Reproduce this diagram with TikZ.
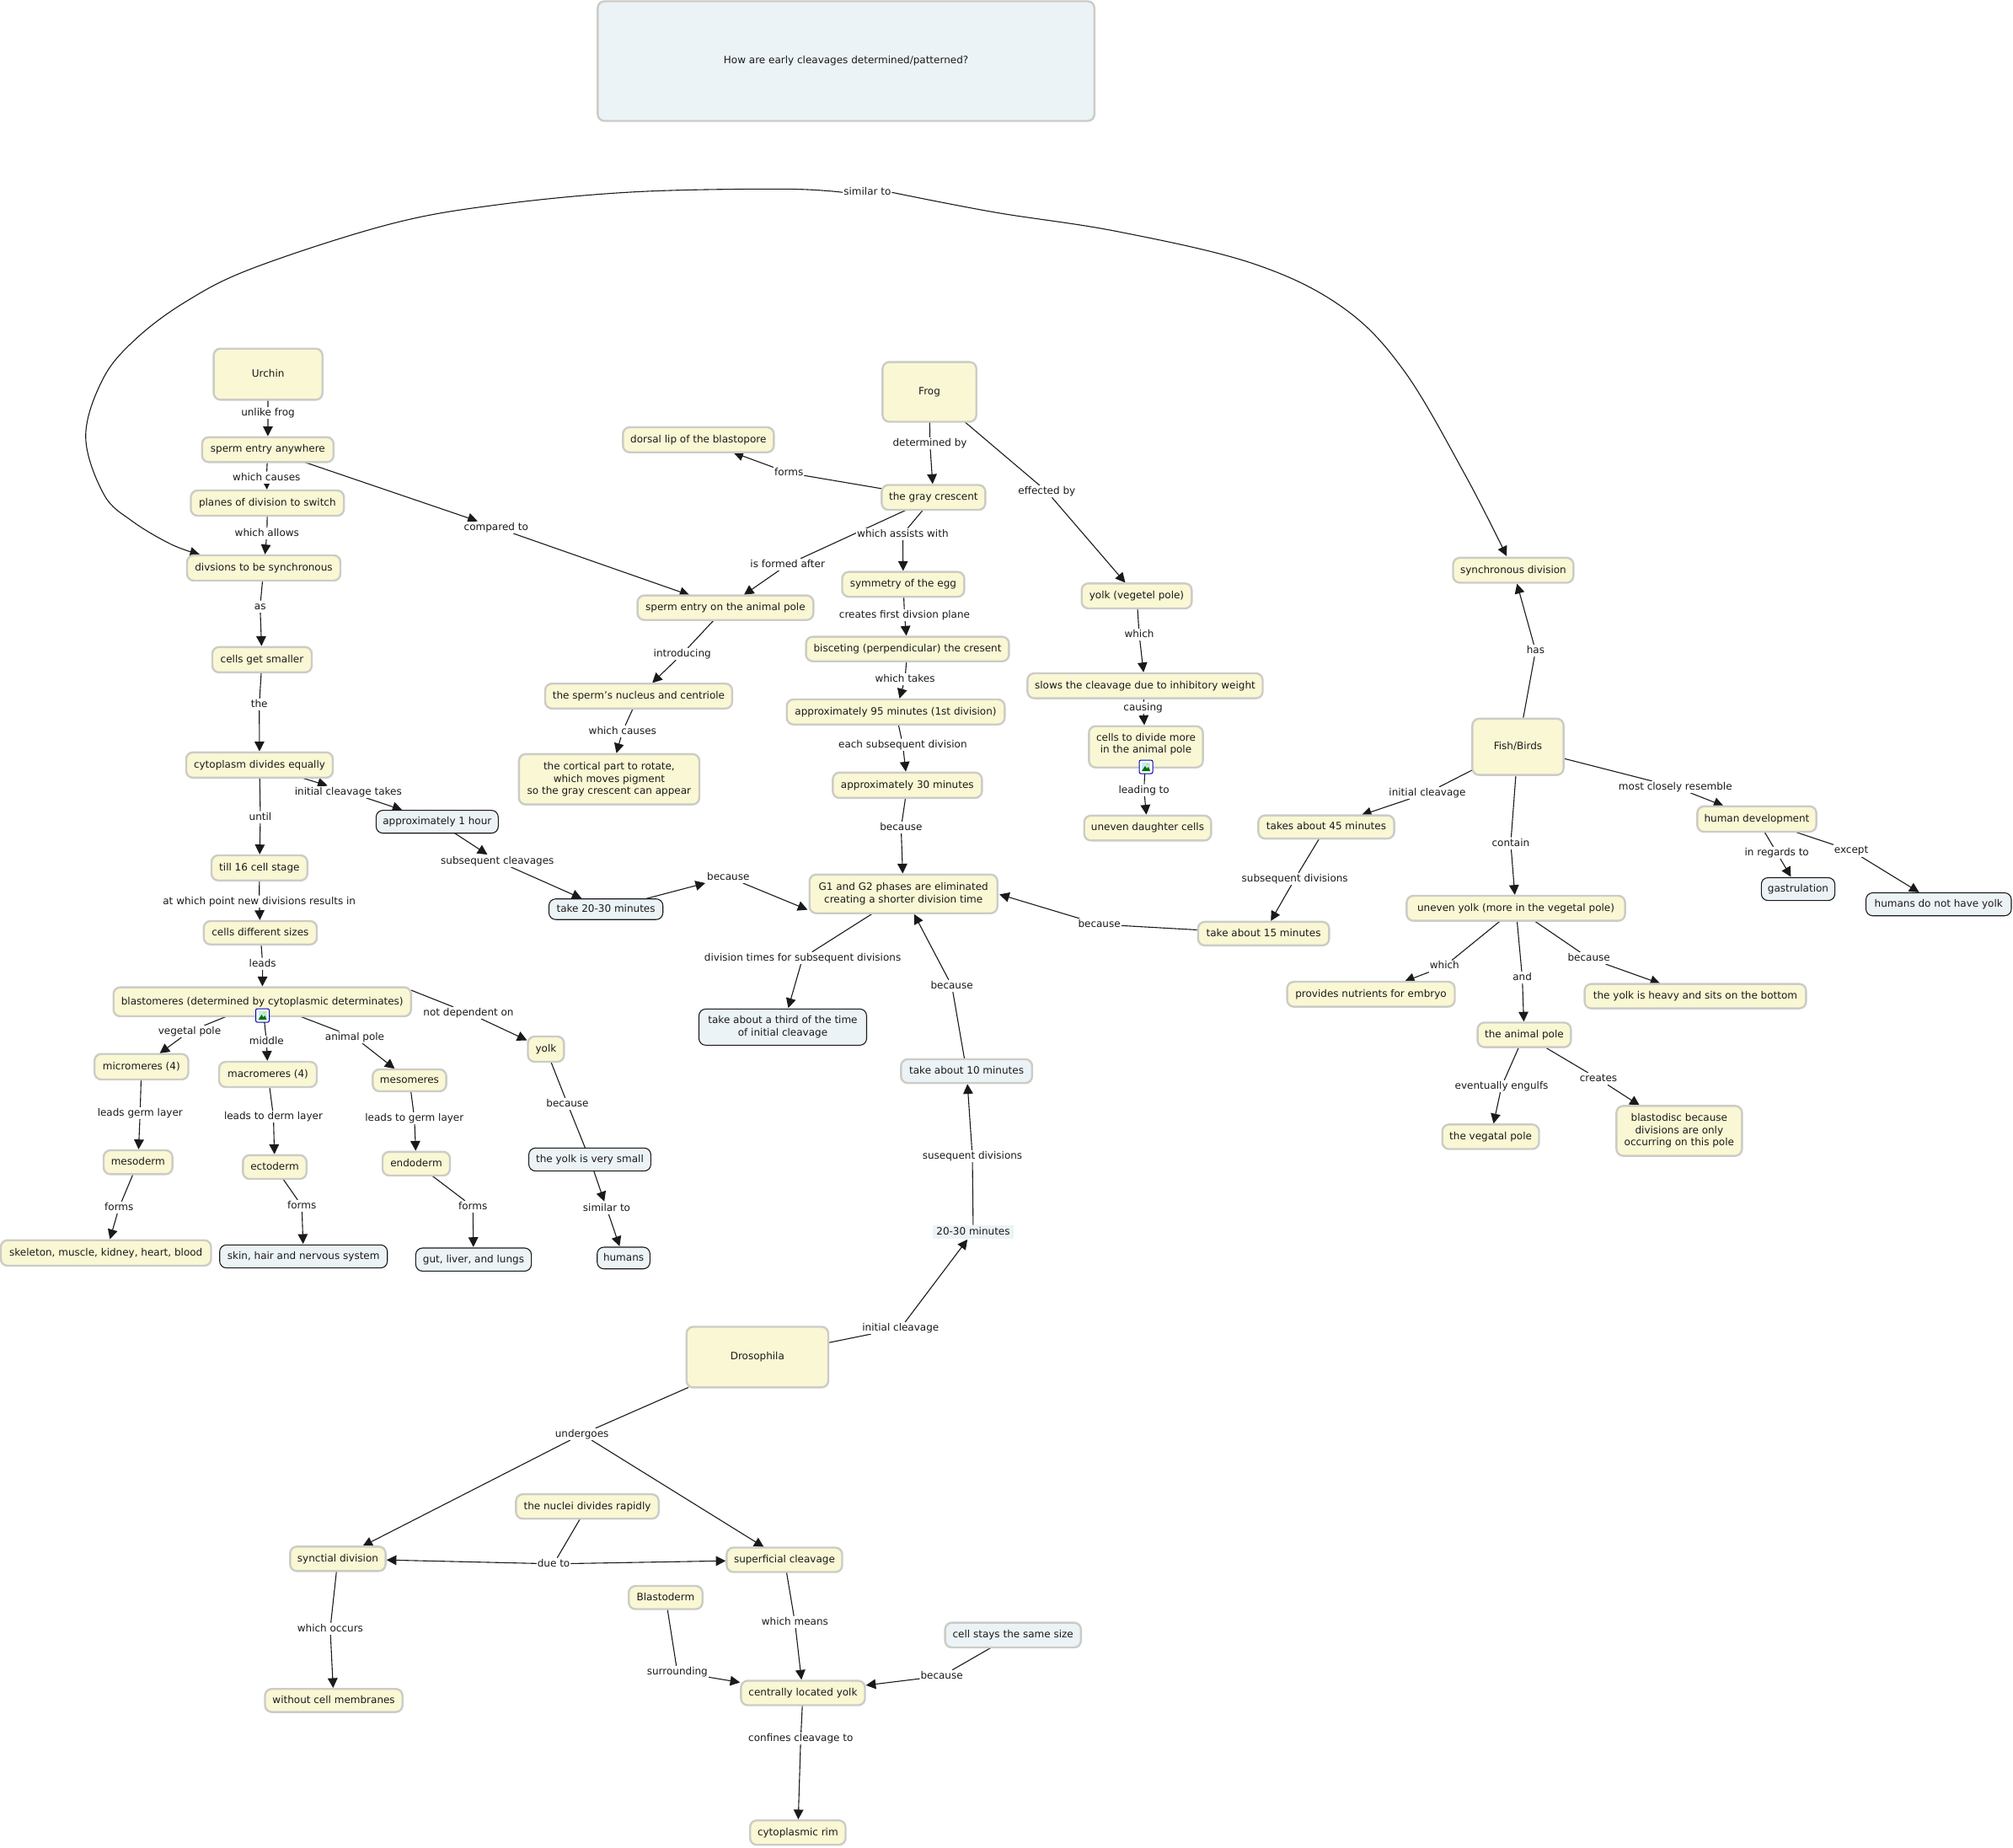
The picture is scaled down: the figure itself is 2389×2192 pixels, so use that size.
\documentclass[tikz,border=0pt]{standalone}
\usepackage{fontspec}
\setmainfont{DejaVu Sans}
\usetikzlibrary{arrows.meta,backgrounds,calc}
\definecolor{yfill}{HTML}{FAF7D4}
\definecolor{bfill}{HTML}{ECF3F6}
\definecolor{gborder}{HTML}{CCCCC6}
\definecolor{ink}{HTML}{1A1A1A}
\tikzset{
  txt/.style={font=\fontsize{6}{7.27}\selectfont,text=ink,inner sep=0pt,outer sep=0pt},
  one/.style={text height=4.6pt,text depth=1.3pt},
  ml/.style={align=center},
  ybox/.style={txt,draw=gborder,fill=yfill,line width=1.2pt,rounded corners=4pt,rectangle},
  gbox/.style={txt,draw=gborder,fill=bfill,line width=1.2pt,rounded corners=4pt,rectangle},
  kbox/.style={txt,draw=ink,fill=bfill,line width=0.55pt,rounded corners=4pt,rectangle},
  pbox/.style={txt,fill=bfill,rectangle},
  lbl/.style={txt,one,fill=white,inner xsep=0.5pt,inner ysep=0.6pt},
  cline/.style={draw=ink,line width=0.55pt},
  carrow/.style={cline,-{Triangle[length=5.8pt,width=5.8pt]},shorten >=0.6pt},
}
\newcommand{\bx}[7]{\node[#2,minimum width={(#4-#3)*0.5pt},minimum height={(#6-#5)*0.5pt}] (#1) at ({(#3+#4)/2},{(#5+#6)/2}) {#7};}
\newcommand{\lb}[4]{\node[lbl] (#1) at (#2,#3) {#4};}
\newcommand{\lnk}[3]{\begin{scope}[on background layer]\draw[cline] (#1) -- (#2);\draw[carrow] (#2) -- (#3);\end{scope}}
\newcommand{\lnkA}[3]{\begin{scope}[on background layer]\draw[carrow] (#1) -- (#2);\draw[carrow] (#2) -- (#3);\end{scope}}
\newcommand{\lnkN}[3]{\begin{scope}[on background layer]\draw[cline] (#1) -- (#2);\draw[cline] (#2) -- (#3);\end{scope}}
\newcommand{\imgicon}[3]{%
  \node[draw=blue!70!black,fill=white,line width=0.5pt,rounded corners=1pt,minimum width=8pt,minimum height=8pt,inner sep=0pt] (#1) at (#2,#3) {};
  \fill[cyan!25] ($(#1.center)+(-5,-5)$) rectangle ($(#1.center)+(5,5)$);
  \fill[green!45!black] ($(#1.center)+(-5,5)$) -- ($(#1.center)+(-1,-1)$) -- ($(#1.center)+(1,2)$) -- ($(#1.center)+(3,0)$) -- ($(#1.center)+(5,5)$) -- cycle;
  \fill[yellow!90!black] ($(#1.center)+(2,-3)$) circle[radius=1.6];
}
\begin{document}
\begin{tikzpicture}[x=0.5pt,y=-0.5pt]
\useasboundingbox (0,0) rectangle (2389,2192);
\begin{scope}[on background layer]\fill[white] (0,0) rectangle (2389,2192);\end{scope}
% boxes
\bx{title}{gbox,one}{709.4}{1298.8}{1.5}{143.5}{How are early cleavages determined/patterned?}
\bx{urchin}{ybox,one}{253.6}{382.7}{413.7}{474.4}{Urchin}
\bx{spany}{ybox,one}{239.8}{395.9}{518.8}{548.4}{sperm entry anywhere}
\bx{planes}{ybox,one}{226.5}{408.2}{582}{612}{planes of division to switch}
\bx{divs}{ybox,one}{222}{404}{659}{689}{divsions to be synchronous}
\bx{smaller}{ybox,one}{252}{370}{767.8}{797.9}{cells get smaller}
\bx{cyto}{ybox,one}{221}{395}{892.8}{922.9}{cytoplasm divides equally}
\bx{till}{ybox,one}{251}{364.8}{1015}{1044.8}{till 16 cell stage}
\bx{diff}{ybox,one}{241.8}{376}{1093}{1120.8}{cells different sizes}
\bx{hour}{kbox,one}{446.4}{591.3}{961.6}{988.7}{approximately 1 hour}
\bx{take2030}{kbox,one}{651.5}{786.7}{1066.7}{1091.2}{take 20-30 minutes}
\bx{blasto}{ybox,one}{134.7}{487.8}{1171.6}{1206}{blastomeres (determined by cytoplasmic determinates)}
\bx{micro}{ybox,one}{112.2}{223.5}{1250.7}{1281}{micromeres (4)}
\bx{macro}{ybox,one}{260}{376}{1260}{1290}{macromeres (4)}
\bx{meso}{ybox,one}{442.3}{529.6}{1269}{1295}{mesomeres}
\bx{yolk}{ybox,one}{626.5}{669.4}{1230}{1260}{yolk}
\bx{mesoderm}{ybox,one}{123}{204.6}{1365}{1393.4}{mesoderm}
\bx{ecto}{ybox,one}{288.3}{363.8}{1370.8}{1399}{ectoderm}
\bx{endo}{ybox,one}{454}{534}{1366.8}{1395}{endoderm}
\bx{ysmall}{kbox,one}{627.6}{772.4}{1362.3}{1389.6}{the yolk is very small}
\bx{skel}{ybox,one}{1}{250.5}{1471.7}{1502}{skeleton, muscle, kidney, heart, blood}
\bx{skin}{kbox,one}{260.7}{459.7}{1477.3}{1504.6}{skin, hair and nervous system}
\bx{gut}{kbox,one}{493.4}{630.6}{1481}{1508.4}{gut, liver, and lungs}
\bx{humans}{kbox,one}{708.7}{771.4}{1480}{1505.7}{humans}
\bx{frog}{ybox,one}{1047.4}{1158.7}{429.6}{500.5}{Frog}
\bx{dorsal}{ybox,one}{739.3}{918.4}{507}{536.7}{dorsal lip of the blastopore}
\bx{gray}{ybox,one}{1046.4}{1169.4}{575.5}{605}{the gray crescent}
\bx{symm}{ybox,one}{999.5}{1144.4}{678.6}{708.2}{symmetry of the egg}
\bx{span}{ybox,one}{756.6}{965.3}{706.6}{735.7}{sperm entry on the animal pole}
\bx{yveg}{ybox,one}{1283.7}{1414.3}{692.3}{722}{yolk (vegetel pole)}
\bx{bisc}{ybox,one}{956.6}{1197.4}{755.6}{784.7}{bisceting (perpendicular) the cresent}
\bx{ap95}{ybox,one}{933.7}{1192.3}{830}{859.7}{approximately 95 minutes (1st division)}
\bx{nucl}{ybox,one}{647}{868.9}{811.2}{840.8}{the sperm's nucleus and centriole}
\bx{cort}{ybox,ml}{615.8}{830}{894.9}{954.6}{the cortical part to rotate,\\which moves pigment\\so the gray crescent can appear}
\bx{slows}{ybox,one}{1219.4}{1498.5}{799}{828.6}{slows the cleavage due to inhibitory weight}
\bx{cdiv}{ybox,ml}{1292.3}{1427.6}{861.7}{910.7}{cells to divide more\\in the animal pole\\[-3pt]\mbox{}}
\bx{daught}{ybox,one}{1286.7}{1437.3}{967.9}{997.4}{uneven daughter cells}
\bx{ap30}{ybox,one}{988.3}{1165.3}{916.8}{946.9}{approximately 30 minutes}
\bx{gg}{ybox,ml}{960.7}{1183.7}{1037.8}{1083.7}{G1 and G2 phases are eliminated\\creating a shorter division time}
\bx{third}{kbox,ml}{829.5}{1028.5}{1197.4}{1240.3}{take about a third of the time\\of initial cleavage}
\bx{take10}{gbox,one}{1069.3}{1224.9}{1257}{1285.2}{take about 10 minutes}
\bx{take15}{ybox,one}{1421.8}{1577.4}{1093.9}{1121.9}{take about 15 minutes}
\bx{min2030}{pbox,one}{1107}{1203}{1453.6}{1469.9}{20-30 minutes}
\bx{dros}{ybox,one}{814.7}{983}{1574.5}{1646.4}{Drosophila}
\bx{sync}{ybox,one}{1724.5}{1867.3}{661.9}{691.5}{synchronous division}
\bx{fish}{ybox,one}{1747.4}{1855.6}{852.8}{919.6}{Fish/Birds}
\bx{take45}{ybox,one}{1493.4}{1654.6}{967.6}{995.1}{takes about 45 minutes}
\bx{human}{ybox,one}{2014.3}{2155.6}{956.8}{987}{human development}
\bx{gastr}{kbox,one}{2090.3}{2177.6}{1041.5}{1068.6}{gastrulation}
\bx{uyolk}{ybox,one}{1669.4}{1928.6}{1063}{1092.6}{uneven yolk (more in the vegetal pole)}
\bx{nutr}{ybox,one}{1527.6}{1726.5}{1165}{1194.6}{provides nutrients for embryo}
\bx{heavy}{ybox,one}{1880.6}{2143.4}{1167.6}{1196.6}{the yolk is heavy and sits on the bottom}
\bx{apole}{ybox,one}{1753.6}{1864.3}{1213.5}{1242.6}{the animal pole}
\bx{vegatal}{ybox,one}{1711.7}{1826.5}{1334.4}{1363.5}{the vegatal pole}
\bx{disc}{ybox,ml}{1918.4}{2067.3}{1312.4}{1371.6}{blastodisc because\\divisions are only\\occurring on this pole}
\bx{noyolk}{kbox,one}{2214.5}{2387}{1059.5}{1086.7}{humans do not have yolk}
\bx{synct}{ybox,one}{344.3}{457.6}{1835.3}{1864.3}{synctial division}
\bx{nuclei}{ybox,one}{612.4}{781.7}{1773.2}{1802.2}{the nuclei divides rapidly}
\bx{without}{ybox,one}{314.5}{477.7}{2004.2}{2031.6}{without cell membranes}
\bx{bderm}{ybox,one}{746.2}{833.7}{1882}{1909.5}{Blastoderm}
\bx{super}{ybox,one}{862.4}{999.5}{1836.5}{1865.5}{superficial cleavage}
\bx{central}{ybox,one}{879.4}{1026.5}{1994.5}{2023.5}{centrally located yolk}
\bx{rim}{ybox,one}{890.2}{1003.5}{2160.2}{2189.2}{cytoplasmic rim}
\bx{same}{gbox,one}{1121.6}{1282.8}{1925.6}{1955}{cell stays the same size}
% labels
\lb{lunlike}{318}{490}{unlike frog}
\lb{lwc}{316.3}{566.7}{which causes}
\lb{lwa}{316.8}{633}{which allows}
\lb{las}{308.7}{719.8}{as}
\lb{lthe}{307.7}{836}{the}
\lb{luntil}{309}{969.8}{until}
\lb{lat}{307.7}{1069.8}{at which point new divisions results in}
\lb{lict}{413.3}{939.7}{initial cleavage takes}
\lb{lsc}{590.3}{1021.8}{subsequent cleavages}
\lb{lcomp}{588.8}{625.9}{compared to}
\lb{lleads}{311.7}{1143.8}{leads}
\lb{lveg}{225}{1224}{vegetal pole}
\lb{lmid}{316.3}{1236}{middle}
\lb{lani}{421}{1231}{animal pole}
\lb{lnot}{556}{1202}{not dependent on}
\lb{lgerm}{166.3}{1321}{leads germ layer}
\lb{lderm}{324.5}{1325}{leads to derm layer}
\lb{lgerm2}{491.8}{1327}{leads to germ layer}
\lb{lbec1}{673.5}{1310}{because}
\lb{lf1}{141.3}{1433}{forms}
\lb{lf2}{358.2}{1431}{forms}
\lb{lf3}{561.2}{1432}{forms}
\lb{lsim}{720}{1434}{similar to}
\lb{ldet}{1103.6}{526}{determined by}
\lb{lform}{936.2}{561.2}{forms}
\lb{leff}{1242.3}{583.2}{effected by}
\lb{lass}{1071.4}{633.7}{which assists with}
\lb{lisf}{934.7}{669.9}{is formed after}
\lb{lintro}{809.7}{776}{introducing}
\lb{lcre}{1073.5}{730.1}{creates first divsion plane}
\lb{ltak}{1074}{806.1}{which takes}
\lb{lwc2}{738.8}{867.9}{which causes}
\lb{leach}{1071.4}{883.7}{each subsequent division}
\lb{lbec2}{1069.4}{982.1}{because}
\lb{lbec3}{864.3}{1040.8}{because}
\lb{lwhich}{1352}{753}{which}
\lb{lcaus}{1356.6}{839.8}{causing}
\lb{lleading}{1357.7}{937.8}{leading to}
\lb{lbec4}{1304.6}{1096.9}{because}
\lb{ldivt}{952.6}{1136.7}{division times for subsequent divisions}
\lb{lbec5}{1129.6}{1169.9}{because}
\lb{lsus}{1154}{1371.9}{susequent divisions}
\lb{lini}{1068.8}{1576}{initial cleavage}
\lb{lhas}{1822.4}{772.1}{has}
\lb{lini2}{1693.9}{941}{initial cleavage}
\lb{lcont}{1792.9}{1000.7}{contain}
\lb{lmost}{1988.3}{933.9}{most closely resemble}
\lb{lsub}{1536.7}{1043}{subsequent divisions}
\lb{lreg}{2108.7}{1011.9}{in regards to}
\lb{lexc}{2197}{1009.4}{except}
\lb{lwhich2}{1714.3}{1146.6}{which}
\lb{land}{1806.6}{1159.9}{and}
\lb{lbec6}{1885.7}{1137}{because}
\lb{leng}{1782.1}{1289}{eventually engulfs}
\lb{lcrt}{1897}{1280.3}{creates}
\lb{lund}{690.6}{1701.9}{undergoes}
\lb{ldue}{657.1}{1855.8}{due to}
\lb{locc}{391.9}{1932.8}{which occurs}
\lb{lsur}{803.8}{1984}{surrounding}
\lb{lmean}{943.4}{1924.8}{which means}
\lb{lbec7}{1117.6}{1988.9}{because}
\lb{lconf}{950.3}{2063}{confines cleavage to}
\lb{lsimto}{1029.4}{228.3}{similar to}
% free ends of connectors
\coordinate (ggleft) at (959.5,1080);
\coordinate (ggright) at (1185,1061);
\coordinate (blastoright) at (487.8,1175);
\coordinate (divtop) at (238.3,658.3);
\coordinate (syncop) at (1788.6,661);
% connectors
\lnk{urchin}{lunlike}{spany}
\lnk{spany}{lwc}{planes}
\lnk{planes}{lwa}{divs}
\lnk{divs}{las}{smaller}
\lnk{smaller}{lthe}{cyto}
\lnk{cyto}{luntil}{till}
\lnk{till}{lat}{diff}
\lnk{diff}{lleads}{blasto}
\lnkA{cyto}{lict}{hour}
\lnkA{hour}{lsc}{take2030}
\lnkA{take2030}{lbec3}{ggleft}
\lnkA{spany}{lcomp}{span}
\lnk{blasto}{lveg}{micro}
\lnk{blasto}{lmid}{macro}
\lnk{blasto}{lani}{meso}
\lnk{blastoright}{lnot}{yolk}
\lnk{micro}{lgerm}{mesoderm}
\lnk{macro}{lderm}{ecto}
\lnk{meso}{lgerm2}{endo}
\lnk{mesoderm}{lf1}{skel}
\lnk{ecto}{lf2}{skin}
\lnk{endo}{lf3}{gut}
\lnkN{yolk}{lbec1}{ysmall}
\lnkA{ysmall}{lsim}{humans}
\lnk{frog}{ldet}{gray}
\lnk{gray}{lform}{dorsal}
\lnk{frog}{leff}{yveg}
\lnk{gray}{lass}{symm}
\lnk{gray}{lisf}{span}
\lnk{span}{lintro}{nucl}
\lnk{nucl}{lwc2}{cort}
\lnk{symm}{lcre}{bisc}
\lnk{bisc}{ltak}{ap95}
\lnk{ap95}{leach}{ap30}
\lnk{ap30}{lbec2}{gg}
\lnk{yveg}{lwhich}{slows}
\lnk{slows}{lcaus}{cdiv}
\lnk{cdiv}{lleading}{daught}
\lnk{take15}{lbec4}{ggright}
\lnk{gg}{ldivt}{third}
\lnk{take10}{lbec5}{gg}
\lnk{min2030}{lsus}{take10}
\lnk{dros}{lini}{min2030}
\lnk{fish}{lhas}{sync}
\lnk{fish}{lini2}{take45}
\lnk{fish}{lcont}{uyolk}
\lnk{fish}{lmost}{human}
\lnk{take45}{lsub}{take15}
\lnk{human}{lreg}{gastr}
\lnk{human}{lexc}{noyolk}
\lnk{uyolk}{lwhich2}{nutr}
\lnk{uyolk}{land}{apole}
\lnk{uyolk}{lbec6}{heavy}
\lnk{apole}{leng}{vegatal}
\lnk{apole}{lcrt}{disc}
\lnk{dros}{lund}{synct}
\begin{scope}[on background layer]\draw[carrow] (lund) -- (super);\draw[carrow] (ldue) -- (super);\end{scope}
\lnk{nuclei}{ldue}{synct}
\lnk{synct}{locc}{without}
\lnk{super}{lmean}{central}
\lnk{bderm}{lsur}{central}
\lnk{same}{lbec7}{central}
\lnk{central}{lconf}{rim}
% long curves
\begin{scope}[on background layer]
\draw[carrow] plot[smooth,tension=0.6] coordinates {(lsimto.west) (928.6,224.3) (750,227.9) (585.7,243.6) (460,266.7) (300,318.3) (220,358.3) (160,403.3) (122,450) (101.7,518.3) (123.3,586.7) (156.7,618.3) (203.3,646) (divtop)};
\draw[carrow] plot[smooth,tension=0.6] coordinates {(lsimto.east) (1181,252) (1326.6,274.8) (1486.6,312.6) (1593,364.5) (1666,439.6) (1738.6,563.2) (syncop)};
\end{scope}
% picture icons
\imgicon{icona}{311.5}{1205}
\imgicon{iconb}{1360}{910}
\end{tikzpicture}
\end{document}
